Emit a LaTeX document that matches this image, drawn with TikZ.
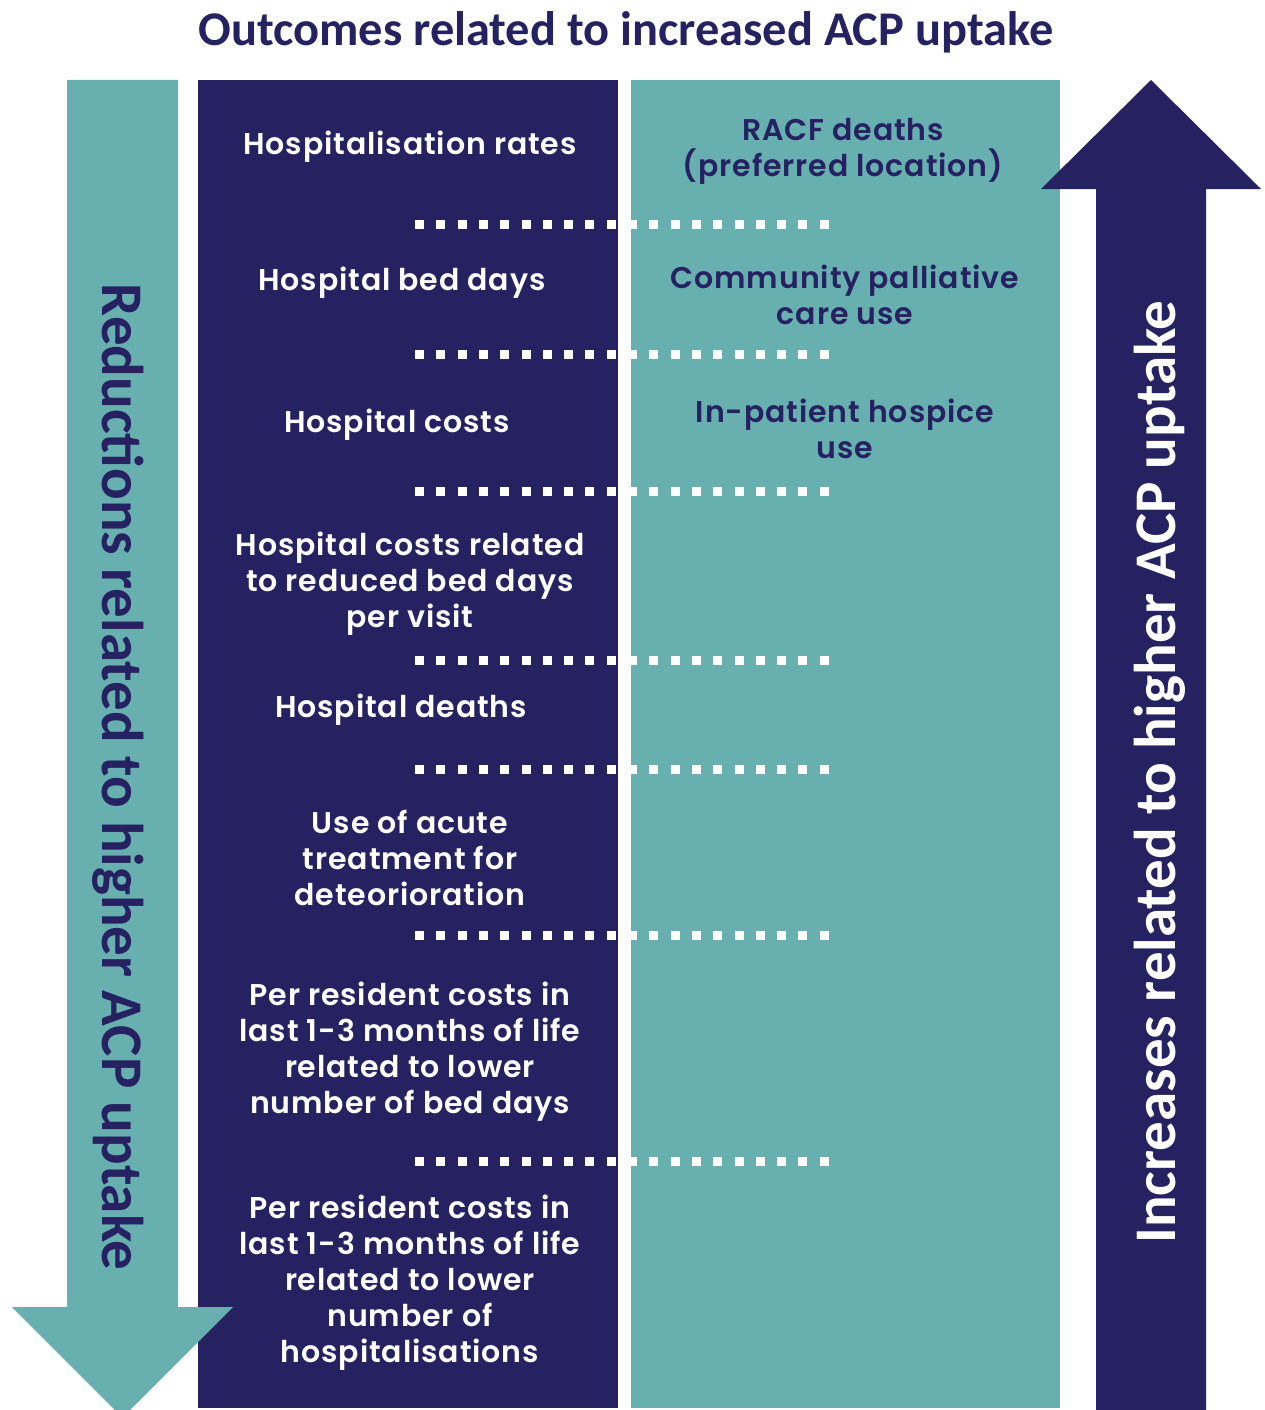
\documentclass[tikz,border=0pt]{standalone}
\usepackage{fontspec}
\setmainfont{Carlito}
\newfontfamily\panelfont{Poppins SemiBold}[LetterSpace=3]
\definecolor{acpnavy}{HTML}{262161}
\definecolor{acpteal}{HTML}{68B0B0}
\begin{document}
\begin{tikzpicture}[x=1pt,y=-1pt,
  lefttext/.style={align=center, text=white, inner sep=0pt,
    font=\panelfont\fontsize{30}{36}\selectfont},
  righttext/.style={align=center, text=acpnavy, inner sep=0pt,
    font=\panelfont\fontsize{30}{36}\selectfont},
  sidelabel/.style={inner sep=0pt, font=\bfseries\fontsize{59}{61}\selectfont},
  separator/.style={white, line width=9pt, dash pattern=on 9pt off 12.3pt}]
\clip (0,0) rectangle (1264,1410);
\fill[white] (0,0) rectangle (1264,1410);

% title
\node[inner sep=0pt, text=acpnavy, font=\bfseries\fontsize{48.4}{52}\selectfont]
  (title) at (626,32) {Outcomes related to increased ACP uptake};

% the two columns
\fill[acpnavy] (198,80) rectangle (618,1408);
\fill[acpteal] (631,80) rectangle (1060,1408);

% dotted separators
\foreach \yy in {224,354,491,660,769,935,1161}
  \draw[separator] (415,\yy) -- (829,\yy);

% downward arrow on the left
\fill[acpteal] (67,80) -- (178,80) -- (178,1307) -- (233,1307)
  -- (122.5,1417.5) -- (12,1307) -- (67,1307) -- cycle;
% upward arrow on the right
\fill[acpnavy] (1096,1410) -- (1096,189) -- (1041,189) -- (1151,80)
  -- (1261,189) -- (1206,189) -- (1206,1410) -- cycle;

\node[sidelabel, text=acpnavy, rotate=-90] (reduce) at (118,777)
  {Reductions related to higher ACP uptake};
\node[sidelabel, text=white, rotate=90] (increase) at (1160,772)
  {Increases related to higher ACP uptake};

% reductions column
\node[lefttext] (r1) at (410,147) {Hospitalisation rates};
\node[lefttext] (r2) at (402,283) {Hospital bed days};
\node[lefttext] (r3) at (397,425) {Hospital costs};
\node[lefttext] (r4) at (410,584) {Hospital costs related\\to reduced bed days\\per visit};
\node[lefttext] (r5) at (401,710) {Hospital deaths};
\node[lefttext] (r6) at (410,858) {Use of acute\\treatment for\\deteorioration};
\node[lefttext] (r7) at (410,1052) {Per resident costs in\\last 1-3 months of life\\related to lower\\number of bed days};
\node[lefttext] (r8) at (410,1283) {Per resident costs in\\last 1-3 months of life\\related to lower\\number of\\hospitalisations};

% increases column
\node[righttext] (i1) at (843,151) {RACF deaths\\(preferred location)};
\node[righttext] (i2) at (845,295) {Community palliative\\care use};
\node[righttext] (i3) at (845,429) {In-patient hospice\\use};
\end{tikzpicture}
\end{document}
